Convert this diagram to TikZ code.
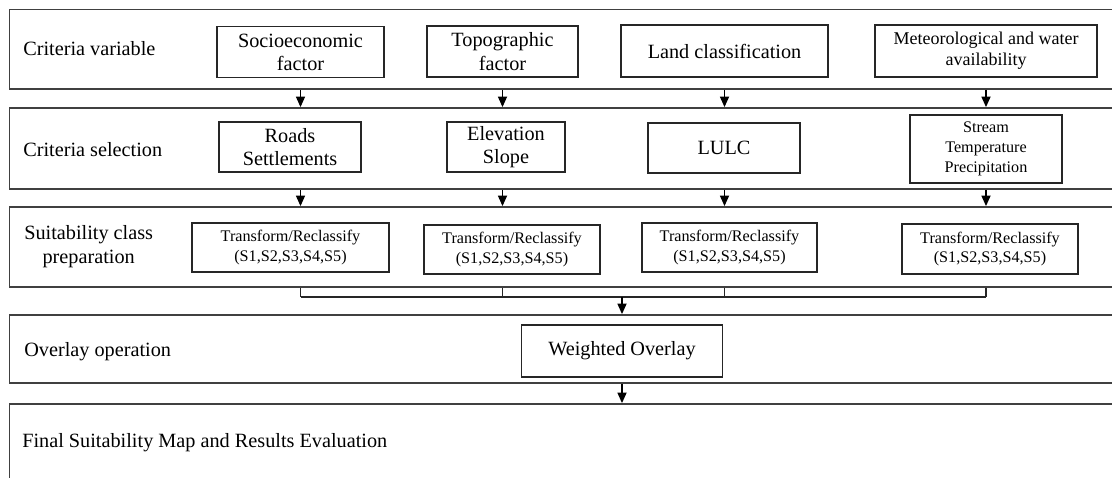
\documentclass[tikz,border=0pt]{standalone}
\usepackage{fontspec}
\setmainfont{Liberation Serif}
\usepackage{tikz}
\usetikzlibrary{arrows.meta,positioning,calc,fit}
\tikzset{
  band/.style={rectangle,draw=black!75,line width=1.3pt,inner sep=0pt},
  factor/.style={rectangle,draw=black!85,line width=1pt,align=center,inner sep=1pt,
    font=\fontsize{14.4}{16.5}\selectfont},
  small/.style={factor,font=\fontsize{11.5}{14}\selectfont},
  lab/.style={anchor=west,align=center,inner sep=0pt,font=\fontsize{14.4}{17}\selectfont},
  flow/.style={line width=.9pt,black,-{Triangle[length=7.5pt,width=6.5pt]}},
  link/.style={line width=.9pt,black!85},
}

\begin{document}
\begin{tikzpicture}[x=0.025cm,y=-0.025cm]
  \useasboundingbox (0,0) rectangle (1112,478);
  \clip (0,0) rectangle (1112,478);

  % the five bands, cut at the right and bottom
  \node[band,fit={(9.5,9.5) (1130,89)}] (b1) {};
  \node[band,fit={(9.5,108) (1130,189)}] (b2) {};
  \node[band,fit={(9.5,207) (1130,287)}] (b3) {};
  \node[band,fit={(9.5,315) (1130,383)}] (b4) {};
  \node[band,fit={(9.5,404) (1130,520)}] (b5) {};

  \node[lab] (l1) at (23,49) {Criteria variable};
  \node[lab] (l2) at (23,150) {Criteria selection};
  \node[lab] (l3) at (24,247) {Suitability class\\preparation};
  \node[lab] (l4) at (24,352) {Overlay operation};
  \node[lab] (l5) at (22,443) {Final Suitability Map and Results Evaluation};

  % criteria variable
  \node[factor,minimum width=4.175cm,minimum height=1.275cm] (soc) at (300.5,52) {Socioeconomic\\factor};
  \node[factor,minimum width=3.775cm,minimum height=1.275cm] (top) at (502.5,51.5) {Topographic\\factor};
  \node[factor,minimum width=5.175cm,minimum height=1.3cm] (land) at (724.5,51) {Land classification};
  \node[factor,minimum width=5.55cm,minimum height=1.3cm,font=\fontsize{12.8}{15}\selectfont] (met) at (986,51) {Meteorological and water\\availability};

  % criteria selection
  \node[factor,minimum width=3.55cm,minimum height=1.25cm] (road) at (290,147) {Roads\\Settlements};
  \node[factor,minimum width=2.95cm,minimum height=1.25cm] (elev) at (506,147) {Elevation\\Slope};
  \node[factor,minimum width=3.8cm,minimum height=1.25cm] (lulc) at (724,148) {LULC};
  \node[small,minimum width=3.8cm,minimum height=1.7cm] (strm) at (986,149) {Stream\\Temperature\\Precipitation};

  % reclassify
  \node[small,minimum width=4.925cm,minimum height=1.225cm] (t1) at (290.5,247.5) {Transform/Reclassify\\(S1,S2,S3,S4,S5)};
  \node[small,minimum width=4.4cm,minimum height=1.225cm] (t2) at (512,249.5) {Transform/Reclassify\\(S1,S2,S3,S4,S5)};
  \node[small,minimum width=4.375cm,minimum height=1.225cm] (t3) at (729.5,247.5) {Transform/Reclassify\\(S1,S2,S3,S4,S5)};
  \node[small,minimum width=4.4cm,minimum height=1.25cm] (t4) at (990,249) {Transform/Reclassify\\(S1,S2,S3,S4,S5)};

  % overlay
  \node[factor,minimum width=5.025cm,minimum height=1.3cm] (wo) at (622,351) {Weighted Overlay};
  \coordinate (jn) at (622,297);

  \foreach \c in {soc,top,land,met}{
    \draw[flow] (\c |- b1.south) -- (\c |- b2.north);
    \draw[flow] (\c |- b2.south) -- (\c |- b3.north);
    \draw[link] (\c |- b3.south) -- (\c |- jn);
  }
  \draw[link] (soc |- jn) -- (met |- jn);
  \draw[flow] (jn) -- (jn |- b4.north);
  \draw[flow] (wo |- b4.south) -- (wo |- b5.north);
\end{tikzpicture}
\end{document}
